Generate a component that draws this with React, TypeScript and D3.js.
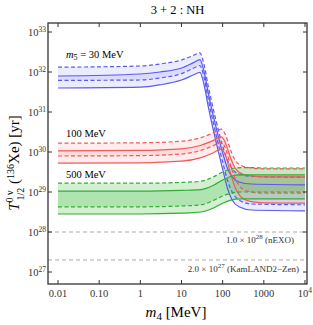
import React from "react";
import * as d3 from "d3";

// ---- data (log10 of T_1/2 in yr) ----
const blueM4 = [0.01, 1, 3, 10, 20, 28, 35, 45, 65, 100, 130, 170, 250, 500, 10000];
const blueDashHi = [32.12, 32.15, 32.2, 32.3, 32.42, 32.48, 32.2, 31.63, 30.9, 30.15, 29.8, 29.58, 29.45, 29.39, 29.37];
const blueSolidHi = [31.9, 31.95, 32.0, 32.1, 32.24, 32.31, 32.03, 31.46, 30.73, 29.98, 29.6, 29.38, 29.25, 29.2, 29.18];
const blueDashLo = [31.79, 31.8, 31.85, 31.96, 32.1, 32.16, 31.88, 31.3, 30.55, 29.75, 29.3, 29.0, 28.8, 28.7, 28.68];
const blueSolidLo = [31.6, 31.62, 31.68, 31.8, 31.93, 31.99, 31.7, 31.12, 30.37, 29.57, 29.1, 28.8, 28.63, 28.55, 28.53];

const redM4 = [0.01, 1, 10, 30, 60, 94, 120, 150, 200, 300, 500, 1000, 10000];
const redDashHi = [30.22, 30.23, 30.27, 30.36, 30.48, 30.57, 30.4, 30.1, 29.8, 29.65, 29.6, 29.58, 29.58];
const redSolidHi = [30.03, 30.04, 30.08, 30.17, 30.29, 30.38, 30.2, 29.9, 29.6, 29.45, 29.4, 29.38, 29.38];
const redDashLo = [29.9, 29.91, 29.95, 30.04, 30.16, 30.25, 30.06, 29.72, 29.35, 29.08, 29.0, 28.97, 28.97];
const redSolidLo = [29.72, 29.73, 29.77, 29.86, 29.98, 30.08, 29.88, 29.52, 29.12, 28.85, 28.76, 28.73, 28.72];

const greenM4 = [0.01, 1, 10, 30, 60, 100, 150, 200, 300, 500, 1000, 10000];
const greenDashHi = [29.22, 29.22, 29.24, 29.27, 29.38, 29.5, 29.57, 29.6, 29.61, 29.61, 29.6, 29.6];
const greenSolidHi = [29.02, 29.02, 29.04, 29.06, 29.17, 29.3, 29.38, 29.42, 29.43, 29.43, 29.43, 29.43];
const greenDashLo = [28.63, 28.63, 28.65, 28.68, 28.79, 28.9, 28.96, 28.99, 29.0, 29.0, 29.0, 29.0];
const greenSolidLo = [28.45, 28.45, 28.47, 28.5, 28.6, 28.72, 28.79, 28.82, 28.83, 28.83, 28.83, 28.83];

const seriesLabels = ["m5 = 30 MeV", "100 MeV", "500 MeV"];
const xTickValues = [0.01, 0.1, 1, 10, 100, 1000, 10000];
const xTickLabels = ["0.01", "0.10", "1", "10", "100", "1000", "10^4"];
const yTickExps = [27, 28, 29, 30, 31, 32, 33];
const refValues = [1e28, 2e27];
const refLabels = [["1.0 × 10", "28", " (nEXO)"], ["2.0 × 10", "27", " (KamLAND2−Zen)"]];

const W = 313, H = 325;
const L = 48, R = 307, T = 23, B = 284;
const FONT = "'Liberation Serif', 'DejaVu Serif', serif";

export default function App() {
  const x = d3.scaleLog().domain([Math.pow(10, -2.243), Math.pow(10, 4.049)]).range([L, R]);
  const y = d3.scaleLog().domain([Math.pow(10, 26.7), Math.pow(10, 33.225)]).range([B, T]);

  const mk = (m4: number[], hi: number[], lo: number[]) =>
    m4.map((m, i) => ({ m, hi: Math.pow(10, hi[i]), lo: Math.pow(10, lo[i]) }));
  const lineOf = (m4: number[], v: number[]) =>
    d3.line<number>().x((_, i) => x(m4[i])).y((d) => y(Math.pow(10, d))).curve(d3.curveMonotoneX)(v) || "";
  const areaOf = (m4: number[], hi: number[], lo: number[]) =>
    d3.area<{ m: number; hi: number; lo: number }>()
      .x((d) => x(d.m)).y0((d) => y(d.lo)).y1((d) => y(d.hi)).curve(d3.curveMonotoneX)(mk(m4, hi, lo)) || "";

  const series = [
    { m4: blueM4, dh: blueDashHi, sh: blueSolidHi, dl: blueDashLo, sl: blueSolidLo, stroke: "#5a5af0", fill: "#8080ff", op: 0.15 },
    { m4: redM4, dh: redDashHi, sh: redSolidHi, dl: redDashLo, sl: redSolidLo, stroke: "#f05a5a", fill: "#ff8080", op: 0.15 },
    { m4: greenM4, dh: greenDashHi, sh: greenSolidHi, dl: greenDashLo, sl: greenSolidLo, stroke: "#2fae2f", fill: "#44bb44", op: 0.24 },
  ];

  return (
    <svg width={W} height={H} style={{ position: "absolute", left: 0, top: 0, background: "#fff" }} fontFamily={FONT}>
      <defs>
        <clipPath id="plotclip"><rect x={L} y={T} width={R - L} height={B - T} /></clipPath>
      </defs>
      <text x={(L + R) / 2} y={14} textAnchor="middle" fontSize={12.5}>3 + 2 : NH</text>

      <g clipPath="url(#plotclip)">
        {refValues.map((v, i) => (
          <line key={i} x1={L} x2={R} y1={y(v)} y2={y(v)} stroke="#aaa" strokeWidth={1} strokeDasharray="4,3" />
        ))}
        {series.map((s, i) => (
          <g key={i}>
            <path d={areaOf(s.m4, s.dh, s.dl)} fill={s.fill} fillOpacity={s.op} />
            <path d={areaOf(s.m4, s.sh, s.sl)} fill={s.fill} fillOpacity={s.op} />
          </g>
        ))}
        {series.map((s, i) => (
          <g key={i} fill="none" stroke={s.stroke} strokeWidth={1.2}>
            <path d={lineOf(s.m4, s.sh)} />
            <path d={lineOf(s.m4, s.sl)} />
            <path d={lineOf(s.m4, s.dh)} strokeDasharray="4,2.5" />
            <path d={lineOf(s.m4, s.dl)} strokeDasharray="4,2.5" />
          </g>
        ))}
      </g>

      {/* series labels */}
      <text x={66} y={58} fontSize={10.5}>
        <tspan fontStyle="italic">m</tspan><tspan fontSize={8} dy={2}>5</tspan><tspan dy={-2}> =  30 MeV</tspan>
      </text>
      <text x={66} y={137} fontSize={10.5}>{seriesLabels[1]}</text>
      <text x={66} y={178} fontSize={10.5}>{seriesLabels[2]}</text>

      {/* reference labels */}
      {refLabels.map((lab, i) => (
        <text key={i} x={i === 0 ? 294 : 299} y={i === 0 ? 243 : 272} textAnchor="end" fontSize={9} fill="#333">
          {lab[0]}<tspan fontSize={7} dy={-4}>{lab[1]}</tspan><tspan dy={4}>{lab[2]}</tspan>
        </text>
      ))}

      {/* frame */}
      <rect x={L} y={T} width={R - L} height={B - T} fill="none" stroke="#333" strokeWidth={1.3} />

      {/* y ticks */}
      {yTickExps.map((e) => {
        const yy = y(Math.pow(10, e));
        return (
          <g key={e}>
            <line x1={L} x2={L + 4} y1={yy} y2={yy} stroke="#333" />
            <line x1={R} x2={R - 4} y1={yy} y2={yy} stroke="#333" />
            <text x={46} y={yy + 3.5} textAnchor="end" fontSize={10.5} fill="#333">
              10<tspan fontSize={7.5} dy={-4}>{e}</tspan>
            </text>
          </g>
        );
      })}

      {/* x ticks */}
      {xTickValues.map((v, i) => {
        const xx = x(v);
        const lab = xTickLabels[i];
        return (
          <g key={v}>
            <line x1={xx} x2={xx} y1={B} y2={B - 4} stroke="#333" />
            <line x1={xx} x2={xx} y1={T} y2={T + 4} stroke="#333" />
            {lab.includes("^") ? (
              <text x={xx} y={297} textAnchor="middle" fontSize={10.5} fill="#333">
                {lab.split("^")[0]}<tspan fontSize={7.5} dy={-4}>{lab.split("^")[1]}</tspan>
              </text>
            ) : (
              <text x={xx} y={297} textAnchor="middle" fontSize={10.5} fill="#333">{lab}</text>
            )}
          </g>
        );
      })}

      {/* axis labels */}
      <text x={176} y={317} textAnchor="middle" fontSize={15}>
        <tspan fontStyle="italic">m</tspan><tspan fontSize={11} dy={3}>4</tspan><tspan dy={-3}> [MeV]</tspan>
      </text>
      <g transform="translate(19,163) rotate(-90)">
        <text x={0} y={0} textAnchor="middle" fontSize={15}>
          <tspan fontStyle="italic">T</tspan>
          <tspan fontSize={10} dy={-6}>0 ν</tspan>
          <tspan fontSize={10} dx={-10} dy={11}>1/2</tspan>
          <tspan dy={-5}> (</tspan>
          <tspan fontSize={10} dy={-5}>136</tspan>
          <tspan dy={5}>Xe) [yr]</tspan>
        </text>
      </g>
    </svg>
  );
}
